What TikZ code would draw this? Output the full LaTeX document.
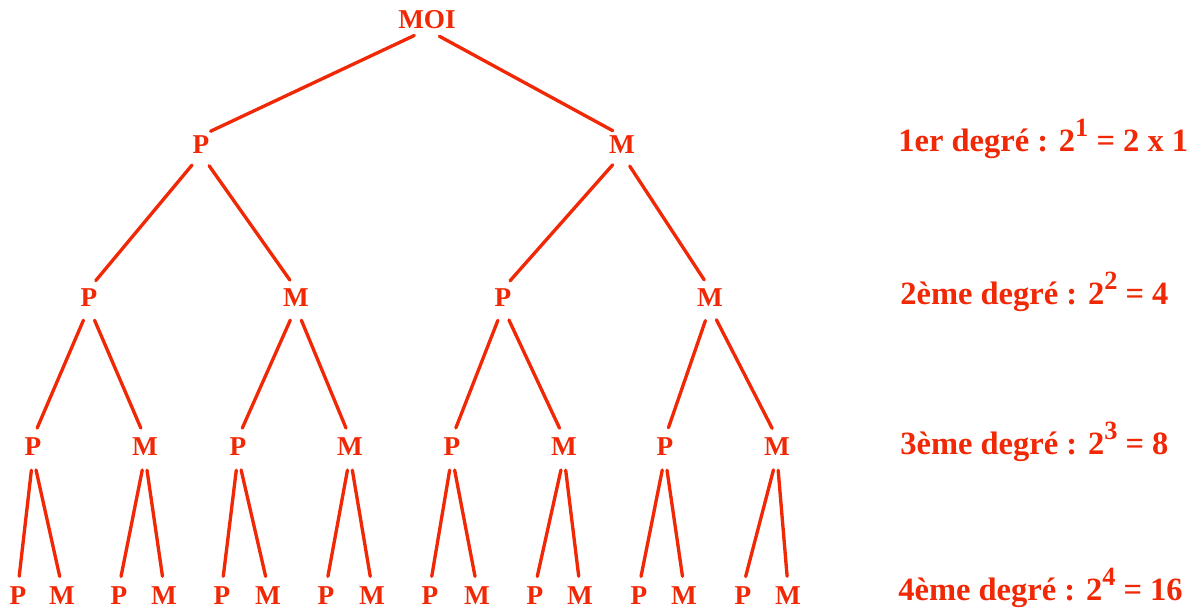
\documentclass[tikz,border=0pt]{standalone}
\usepackage{fontspec}
\setmainfont{Liberation Serif}
\definecolor{tred}{RGB}{240,40,5}
\newcommand\expo[1]{\raisebox{0.45em}{\fontsize{15}{15}\selectfont #1}}
\begin{document}
\begin{tikzpicture}[x=0.02cm,y=-0.02cm,
  lbl/.style={text=tred,font=\bfseries\fontsize{15.5}{16}\selectfont,inner sep=0pt},
  deg/.style={text=tred,font=\bfseries\fontsize{18.5}{20}\selectfont,inner sep=0pt,anchor=base west},
  edge/.style={draw=tred,line width=1.9pt,line cap=round,shorten <=8pt,shorten >=6pt}]
\useasboundingbox (0,0) rectangle (1194,610);
% root
\node[lbl] (r) at (427,20) {MOI};
% level 1
\node[lbl] (a) at (201,145) {P};
\node[lbl] (b) at (622,145) {M};
% level 2
\node[lbl] (aa) at (89,298) {P};
\node[lbl] (ab) at (296,298) {M};
\node[lbl] (ba) at (503,298) {P};
\node[lbl] (bb) at (710,298) {M};
% level 3
\node[lbl] (aaa) at (33,447) {P};
\node[lbl] (aab) at (145,447) {M};
\node[lbl] (aba) at (238,447) {P};
\node[lbl] (abb) at (350,447) {M};
\node[lbl] (baa) at (452,447) {P};
\node[lbl] (bab) at (564,447) {M};
\node[lbl] (bba) at (665,447) {P};
\node[lbl] (bbb) at (777,447) {M};
% level 4
\node[lbl] (aaaa) at (18,596) {P};
\node[lbl] (aaab) at (62,596) {M};
\node[lbl] (aaba) at (119,596) {P};
\node[lbl] (aabb) at (164,596) {M};
\node[lbl] (abaa) at (222,596) {P};
\node[lbl] (abab) at (268,596) {M};
\node[lbl] (abba) at (326,596) {P};
\node[lbl] (abbb) at (372,596) {M};
\node[lbl] (baaa) at (430,596) {P};
\node[lbl] (baab) at (477,596) {M};
\node[lbl] (baba) at (535,596) {P};
\node[lbl] (babb) at (580,596) {M};
\node[lbl] (bbaa) at (639,596) {P};
\node[lbl] (bbab) at (684,596) {M};
\node[lbl] (bbba) at (743,596) {P};
\node[lbl] (bbbb) at (788,596) {M};
% edges
\draw[edge] (r.south) -- (a.north);
\draw[edge] (r.south) -- (b.north);
\foreach \p in {a,b,aa,ab,ba,bb,aaa,aab,aba,abb,baa,bab,bba,bbb}{
  \draw[edge] (\p.south) -- (\p a.north);
  \draw[edge] (\p.south) -- (\p b.north);
}
% degree labels
\node[deg] (d1) at (898,151) {1er degré : 2\expo{1} = 2 x 1};
\node[deg] (d2) at (900,304) {2ème degré : 2\expo{2} = 4};
\node[deg] (d3) at (900,454) {3ème degré : 2\expo{3} = 8};
\node[deg] (d4) at (898,600) {4ème degré : 2\expo{4} = 16};
\end{tikzpicture}
\end{document}
